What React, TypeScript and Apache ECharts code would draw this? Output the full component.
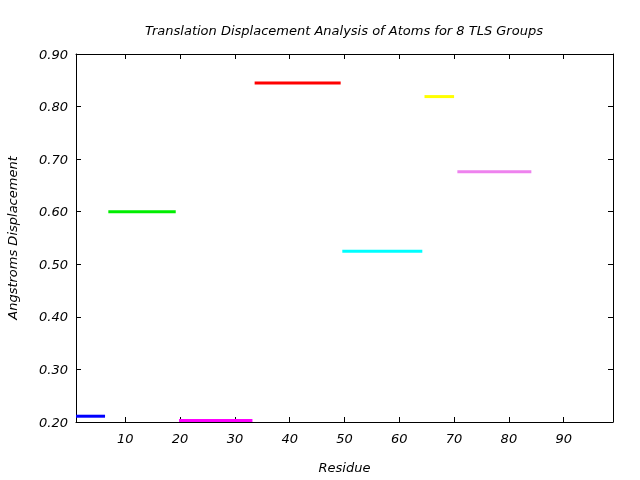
import React, { useEffect, useRef } from "react";
import * as echarts from "echarts";

const groupStarts = [1, 6.9, 19.8, 33.6, 49.6, 64.6, 70.6];
const groupEnds = [6.3, 19.2, 33.2, 49.3, 64.2, 70.0, 84.1];
const groupValues = [0.211, 0.6, 0.203, 0.845, 0.525, 0.819, 0.676];
const groupColors = ["#0000ff", "#00ee00", "#ff00ff", "#ff0000", "#00ffff", "#ffff00", "#ee82ee"];
const xTickValues = [10, 20, 30, 40, 50, 60, 70, 80, 90];

const FONT = "DejaVu Sans";

export default function App() {
  const ref = useRef<HTMLDivElement>(null);
  useEffect(() => {
    if (!ref.current) return;
    const chart = echarts.init(ref.current, null, { renderer: "svg" });
    const axisLine = { show: true, lineStyle: { color: "#000", width: 1 } };
    const tick = { show: true, inside: true, length: 5, lineStyle: { color: "#000" } };
    const labelStyle = { fontFamily: FONT, fontStyle: "italic", fontSize: 13, color: "#000" };
    chart.setOption({
      animation: false,
      title: {
        text: "Translation Displacement Analysis of Atoms for 8 TLS Groups",
        left: 339,
        top: 19,
        textAlign: "center",
        textStyle: { fontFamily: FONT, fontStyle: "italic", fontWeight: "normal", fontSize: 13, color: "#000" },
      },
      grid: { left: 76, right: 27, top: 54, bottom: 58, containLabel: false, outerBoundsMode: "none" },
      xAxis: [
        {
          type: "value",
          position: "bottom",
          min: 1,
          max: 99,
          axisLine,
          axisTick: { ...tick, customValues: xTickValues },
          axisLabel: { ...labelStyle, margin: 10, customValues: xTickValues },
          splitLine: { show: false },
          name: "Residue",
          nameLocation: "middle",
          nameGap: 39,
          nameTextStyle: labelStyle,
        },
        {
          type: "value",
          position: "top",
          min: 1,
          max: 99,
          axisLine,
          axisTick: { ...tick, customValues: xTickValues },
          axisLabel: { show: false },
          splitLine: { show: false },
        },
      ],
      yAxis: [
        {
          type: "value",
          position: "left",
          min: 0.2,
          max: 0.9,
          interval: 0.1,
          axisLine,
          axisTick: tick,
          axisLabel: { ...labelStyle, margin: 8, formatter: (v: number) => v.toFixed(2) },
          splitLine: { show: false },
          name: "Angstroms Displacement",
          nameLocation: "middle",
          nameGap: 57,
          nameTextStyle: labelStyle,
        },
        {
          type: "value",
          position: "right",
          min: 0.2,
          max: 0.9,
          interval: 0.1,
          axisLine,
          axisTick: tick,
          axisLabel: { show: false },
          splitLine: { show: false },
        },
      ],
      series: groupValues.map((v, i) => ({
        type: "line",
        xAxisIndex: 0,
        yAxisIndex: 0,
        showSymbol: false,
        symbol: "none",
        clip: false,
        data: [
          [groupStarts[i], v],
          [groupEnds[i], v],
        ],
        lineStyle: { color: groupColors[i], width: 3 },
        itemStyle: { color: groupColors[i] },
      })),
    });
    return () => chart.dispose();
  }, []);
  return <div ref={ref} style={{ position: "fixed", left: 0, top: 0, width: 640, height: 480 }} />;
}
